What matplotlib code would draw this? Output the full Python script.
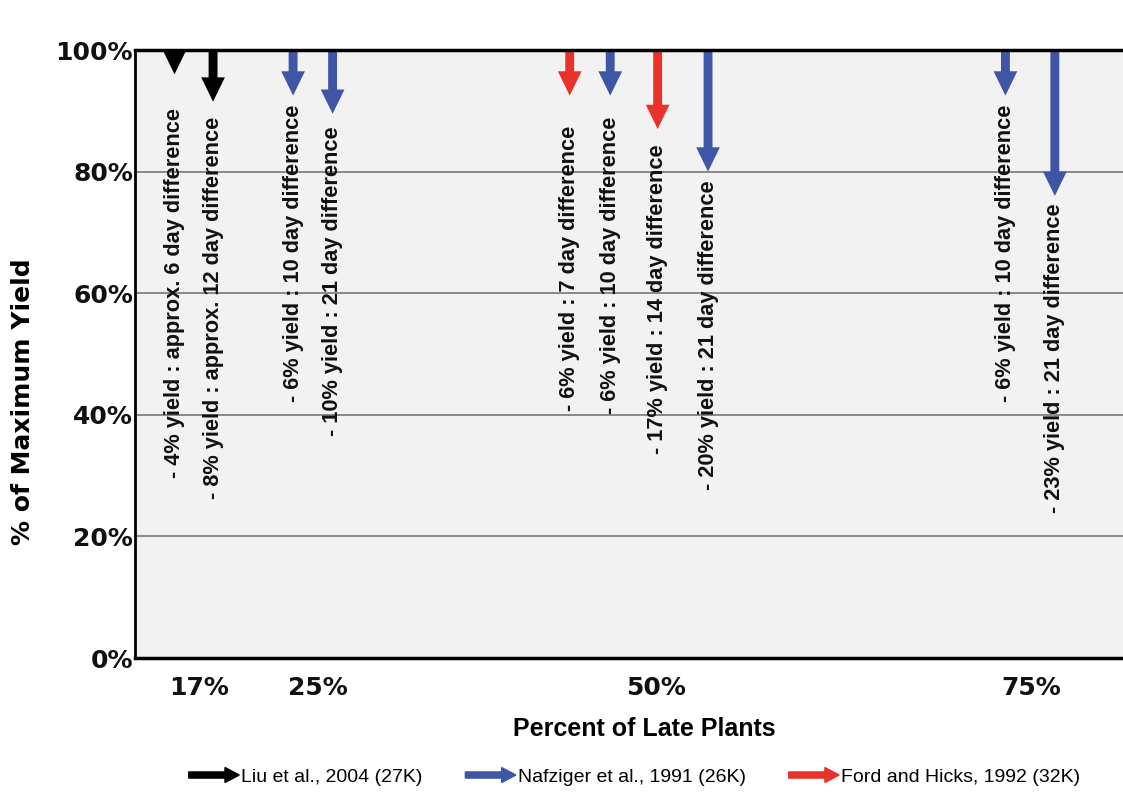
import matplotlib.pyplot as plt
import matplotlib.patches as mpatches
from matplotlib.legend_handler import HandlerPatch

# x axis groups (percent of late plants)
group_labels = ['17%', '25%', '50%', '75%']
group_pos = [6.5, 18.5, 52.7, 90.7]

# studies
studies = ['Liu et al., 2004 (27K)', 'Nafziger et al., 1991 (26K)', 'Ford and Hicks, 1992 (32K)']
study_colors = ['#000000', '#3f55a5', '#e8332b']

# one arrow per observation: x position, drop from 100% (as drawn), study index, label
arrow_x = [4.0, 7.9, 16.0, 20.0, 44.0, 48.1, 52.9, 58.0, 88.1, 93.1]
arrow_drop = [4, 8.5, 7.5, 10.5, 7.5, 7.5, 13, 20, 7.5, 24]
arrow_study = [0, 0, 1, 1, 2, 1, 2, 1, 1, 1]
arrow_text = [
    '- 4% yield : approx. 6 day difference',
    '- 8% yield : approx. 12 day difference',
    '- 6% yield : 10 day difference',
    '- 10% yield : 21 day difference',
    '- 6% yield : 7 day difference',
    '- 6% yield : 10 day difference',
    '- 17% yield : 14 day difference',
    '- 20% yield : 21 day difference',
    '- 6% yield : 10 day difference',
    '- 23% yield : 21 day difference',
]
# gap between arrow tip and the end of its label
label_gap = [5.5, 2.5, 1.5, 2, 5, 3.5, 2.5, 1.5, 1.5, 1.2]

yticks = [0, 20, 40, 60, 80, 100]

fig = plt.figure(figsize=(11.23, 7.94), dpi=100)
ax = fig.add_axes([135/1123, 136/794, 988/1123, 608/794])
ax.set_facecolor('#f2f2f2')
ax.set_xlim(0, 100)
ax.set_ylim(0, 100)

# grid
ax.set_axisbelow(True)
ax.set_yticks(yticks, [f'{v}%' for v in yticks])
ax.yaxis.grid(True, color='#777777', linewidth=1.2)

# arrows and labels
for x, d, s, t, g in zip(arrow_x, arrow_drop, arrow_study, arrow_text, label_gap):
    c = study_colors[s]
    ax.arrow(x, 100, 0, -d, width=0.9, head_width=2.4, head_length=min(4.0, d),
             length_includes_head=True, color=c, zorder=2, linewidth=0)
    ax.text(x, 100 - d - g, t, rotation=90, ha='center', va='top',
            fontsize=15.7, fontweight='bold', family='Liberation Sans', color='#111111', zorder=3)

ax.set_xticks(group_pos, group_labels)
ax.tick_params(axis='x', length=0, pad=13)
ax.tick_params(axis='y', length=0, pad=1.5)
for lab in ax.get_xticklabels() + ax.get_yticklabels():
    lab.set_fontsize(18)
    lab.set_fontweight('bold')
    lab.set_family('DejaVu Sans')
    lab.set_color('#111111')

for side in ['top', 'bottom']:
    ax.spines[side].set_linewidth(2.5)
ax.spines['left'].set_linewidth(2)
ax.spines['right'].set_visible(False)

ax.set_ylabel('% of Maximum Yield', fontsize=18, fontweight='bold', family='DejaVu Sans')
ax.yaxis.set_label_coords(-0.101, 0.421)
ax.set_xlabel('Percent of Late Plants', fontsize=18, fontweight='bold', family='Liberation Sans')
ax.xaxis.set_label_coords(0.516, -0.097)


# legend with arrow handles
def legend_arrow(legend, orig_handle, xdescent, ydescent, width, height, fontsize):
    return mpatches.FancyArrow(-xdescent, height / 2 - ydescent, width, 0,
                               width=height * 0.45, head_width=height * 1.1,
                               head_length=height * 1.05, length_includes_head=True)


handles = [mpatches.Patch(color=c, label=l) for c, l in zip(study_colors, studies)]
fig.legend(handles=handles, loc='center', bbox_to_anchor=(0.565, 0.0214), ncol=3,
           frameon=False, handlelength=2.6, handletextpad=0.1, columnspacing=2.2,
           prop={'family': 'Liberation Sans', 'size': 14},
           handler_map={mpatches.Patch: HandlerPatch(patch_func=legend_arrow)})

fig.savefig('out.png', dpi=100)
